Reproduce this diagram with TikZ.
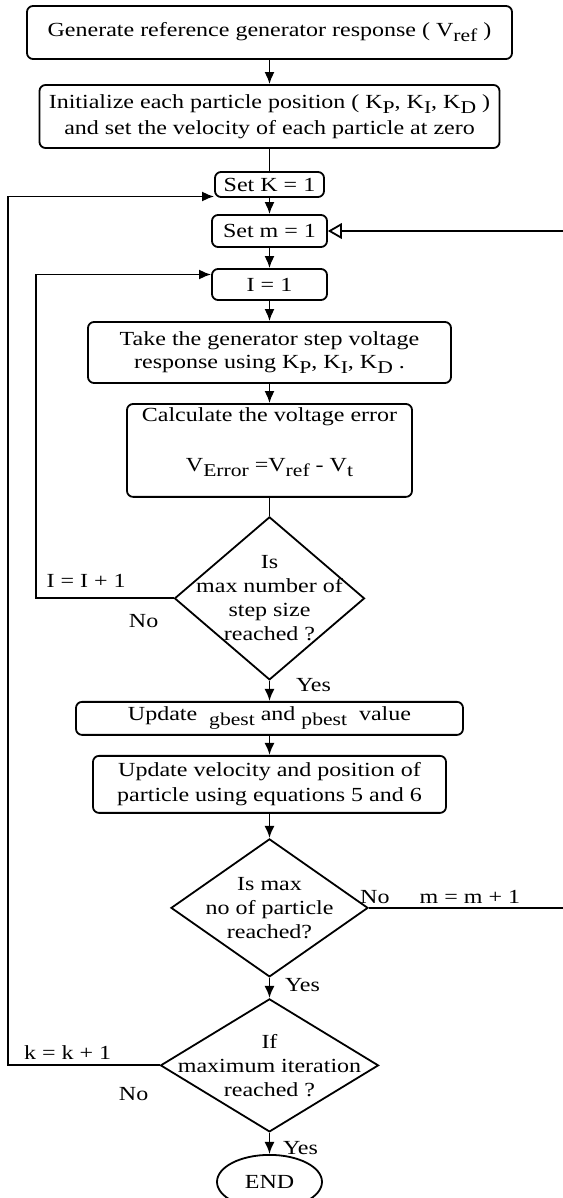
\documentclass[tikz,border=0pt]{standalone}
\usepackage{fontspec}
\setmainfont{Liberation Serif}[FakeStretch=1.2]
\usetikzlibrary{arrows, arrows.meta, positioning, shapes.geometric}
\newcommand{\sbs}[1]{\raisebox{-0.55ex}{\small #1}}

\begin{document}
\begin{tikzpicture}[line width=0.9pt, >={Latex[length=6pt,width=5pt]}]
\tikzset{process/.style={rectangle, draw, rounded corners=3pt, align=center, inner sep=2pt, font=\fontsize{10}{13}\selectfont},
		decision/.style={diamond, draw, inner sep=0pt},
		stopnode/.style={ellipse, draw, inner sep=0pt, minimum width=52.5pt, minimum height=27pt, font=\fontsize{10}{13}\selectfont},
		lbl/.style={inner sep=1pt, font=\fontsize{10}{12}\selectfont}}
\useasboundingbox (-134.75pt,16.25pt) rectangle (146.25pt,-582.75pt);
\node[process, minimum width=242.5pt, minimum height=26.5pt] (GR) {Generate reference generator response ( V\sbs{ref} )};
\node[process, below=12.1pt of GR, minimum width=230pt, minimum height=31.5pt] (IP) {Initialize each particle position ( K\sbs{P}, K\sbs{I}, K\sbs{D} )\\and set the velocity of each particle at zero};
\node[process, below=11.1pt of IP, minimum width=54.5pt, minimum height=12.5pt] (SK) {Set K = 1};
\node[process, below=8.1pt of SK, minimum width=57.5pt, minimum height=16pt] (SM) {Set m = 1};
\node[process, below=10.1pt of SM, minimum width=57.5pt, minimum height=15.5pt] (SI) {I = 1};
\node[process, below=10.1pt of SI, minimum width=181.5pt, minimum height=30.5pt] (TR) {Take the generator step voltage\\[-1.5pt]response using K\sbs{P}, K\sbs{I}, K\sbs{D} .};
\node[process, below=9.6pt of TR, minimum width=142.5pt, minimum height=45.5pt] (CE) {Calculate the voltage error\\[12pt]V\sbs{Error} =V\sbs{ref} - V\sbs{t}\\[-2.5pt]\mbox{}};
\node[decision, below=9.1pt of CE, minimum width=95pt, minimum height=81.5pt, label={[lbl, align=center]center:Is\\max number of\\step size\\reached ?}] (D1) {};
\node[process, below=10.1pt of D1, minimum width=193.5pt, minimum height=16.5pt] (UG) {Update~ \sbs{gbest} and \sbs{pbest}~ value};
\node[process, below=9.6pt of UG, minimum width=176.5pt, minimum height=28.5pt] (UV) {Update velocity and position of\\[-0.5pt]particle using equations 5 and 6};
\node[decision, below=12.1pt of UV, minimum width=98.5pt, minimum height=69pt, label={[lbl, align=center]center:Is max\\no of particle\\reached?}] (D2) {};
\node[decision, below=10.1pt of D2, minimum width=109pt, minimum height=66.5pt, label={[lbl, align=center]center:If\\maximum iteration\\reached ?}] (D3) {};
\node[stopnode, below=10.6pt of D3] (EN) {END};
\draw[->] (GR) -- (IP);
\draw (IP) -- (SK);
\draw[->] (SK) -- (SM);
\draw[->] (SM) -- (SI);
\draw[->] (SI) -- (TR);
\draw[->] (TR) -- (CE);
\draw (CE) -- (D1);
\draw[->] (D1) -- (UG);
\draw[->] (UG) -- (UV);
\draw[->] (UV) -- (D2);
\draw[->] (D2) -- (D3);
\draw[->] (D3) -- (EN);
% loop back paths
\draw[->] (D1.west) -| ([xshift=-87.5pt,yshift=5pt]SI.west) -- ([yshift=5pt]SI.west);
\draw[-open triangle 60] (D2.east) -| ([xshift=120pt]SM.east) -- (SM.east);
\draw[->] (D3.west) -| ([xshift=-103pt,yshift=-6pt]SK.west) -- ([yshift=-6pt]SK.west);
\node[lbl] (Y1) at ([shift={(22pt,-2pt)}]D1.south) {Yes};
\node[lbl] (N1) at ([shift={(-15pt,-11.5pt)}]D1.west) {No};
\node[lbl] (I1) at ([shift={(-43.75pt,8.5pt)}]D1.west) {I = I + 1};
\node[lbl] (N2) at ([shift={(3pt,5.5pt)}]D2.east) {No};
\node[lbl] (M1) at ([shift={(50.5pt,5.5pt)}]D2.east) {m = m + 1};
\node[lbl] (Y2) at ([shift={(16.5pt,-3.5pt)}]D2.south) {Yes};
\node[lbl] (K1) at ([shift={(-46pt,6.5pt)}]D3.west) {k = k + 1};
\node[lbl] (N3) at ([shift={(-13pt,-14.5pt)}]D3.west) {No};
\node[lbl] (Y3) at ([shift={(15.5pt,-7.5pt)}]D3.south) {Yes};
\end{tikzpicture}
\end{document}
